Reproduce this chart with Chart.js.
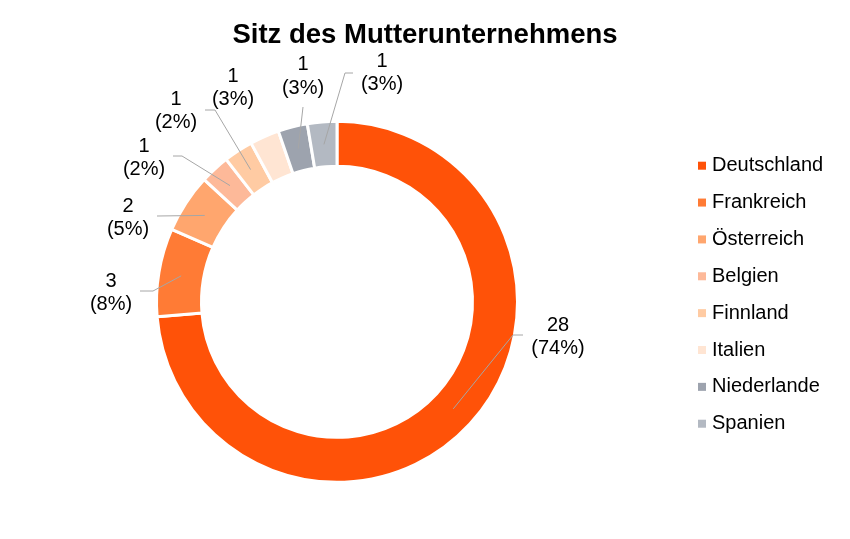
<!DOCTYPE html>
<html><head><meta charset="utf-8">
<script src="https://cdn.jsdelivr.net/npm/chart.js@4"></script>
<style>html,body{margin:0;padding:0;background:#fff}canvas{display:block}</style>
</head><body>
<canvas id="c" width="850" height="539" style="width:850px;height:539px"></canvas>
<script>
const categories = ['Deutschland','Frankreich','Österreich','Belgien','Finnland','Italien','Niederlande','Spanien'];
const counts = [28, 3, 2, 1, 1, 1, 1, 1];
const percentLabels = ['74%','8%','5%','2%','2%','3%','3%','3%'];
const colors = ['#FF5208','#FF7B35','#FFA66E','#FDB999','#FFCBA3','#FFE5D3','#9DA3AE','#B3B9C2'];
const titleText = 'Sitz des Mutterunternehmens';

// data-label layout: text centre and leader line points (knee, end)
const labelLayout = [
  {x:558, y:325, knee:[513,335], end:[523,335]},
  {x:111, y:281, knee:[153,291], end:[140,291]},
  {x:128, y:206, knee:null, end:[157,216]},
  {x:144, y:146, knee:[182,156], end:[173,156]},
  {x:176, y:99,  knee:[215,110], end:[205,110]},
  {x:233, y:76,  knee:null, end:null},
  {x:303, y:64.5, knee:null, end:[303,107]},
  {x:382, y:61,  knee:[345,73], end:[353,73]}
];

const FONT = '"Liberation Sans", Arial, sans-serif';

const labelPlugin = {
  id: 'dataLabels',
  afterDatasetsDraw(chart) {
    const ctx = chart.ctx;
    const meta = chart.getDatasetMeta(0);
    ctx.save();
    meta.data.forEach((arc, i) => {
      const L = labelLayout[i];
      if (L.end) {
        const c = arc.getCenterPoint();
        ctx.beginPath();
        ctx.strokeStyle = '#A6A6A6';
        ctx.lineWidth = 1;
        ctx.moveTo(c.x, c.y);
        if (L.knee) ctx.lineTo(L.knee[0], L.knee[1]);
        ctx.lineTo(L.end[0], L.end[1]);
        ctx.stroke();
      }
      ctx.fillStyle = '#000';
      ctx.font = '20px ' + FONT;
      ctx.textAlign = 'center';
      ctx.textBaseline = 'middle';
      ctx.fillText(String(counts[i]), L.x, L.y);
      ctx.fillText('(' + percentLabels[i] + ')', L.x, L.y + 23.5);
    });
    ctx.restore();
  }
};

// legend as a layout box on the right (reserves space so the title stays centred on the canvas)
const legendPlugin = {
  id: 'sideLegend',
  beforeInit(chart) {
    const box = {
      position: 'right',
      weight: 1000,
      fullSize: false,
      options: {},
      left: 0, top: 0, right: 0, bottom: 0, width: 0, height: 0,
      isHorizontal() { return false; },
      update(maxWidth, maxHeight) { this.width = 176; this.height = maxHeight; },
      getPadding() { return {left: 0, top: 0, right: 0, bottom: 0}; },
      draw() {
        const ctx = chart.ctx;
        const ds = chart.data.datasets[0];
        ctx.save();
        chart.data.labels.forEach((lab, i) => {
          const y = this.top + 101 + i * 36.86;
          ctx.fillStyle = ds.backgroundColor[i];
          ctx.fillRect(this.left + 24, y - 4, 8, 8);
          ctx.fillStyle = '#000';
          ctx.font = '20px ' + FONT;
          ctx.textAlign = 'left';
          ctx.textBaseline = 'middle';
          ctx.fillText(lab, this.left + 38, y);
        });
        ctx.restore();
      }
    };
    Chart.layouts.addBox(chart, box);
  }
};

new Chart(document.getElementById('c'), {
  type: 'doughnut',
  data: {
    labels: categories,
    datasets: [{
      data: counts,
      backgroundColor: colors,
      borderColor: '#FFFFFF',
      borderWidth: 3,
      hoverOffset: 0
    }]
  },
  options: {
    responsive: false,
    animation: false,
    radius: 180.5,
    cutout: '75.07%',
    layout: { padding: 0 },
    plugins: {
      legend: { display: false },
      tooltip: { enabled: false },
      title: {
        display: true,
        text: titleText,
        color: '#000',
        font: { family: FONT, size: 27.5, weight: 'bold', lineHeight: 1.2 },
        padding: { top: 19, bottom: 12.7 }
      }
    }
  },
  plugins: [labelPlugin, legendPlugin]
});
</script>
</body></html>
